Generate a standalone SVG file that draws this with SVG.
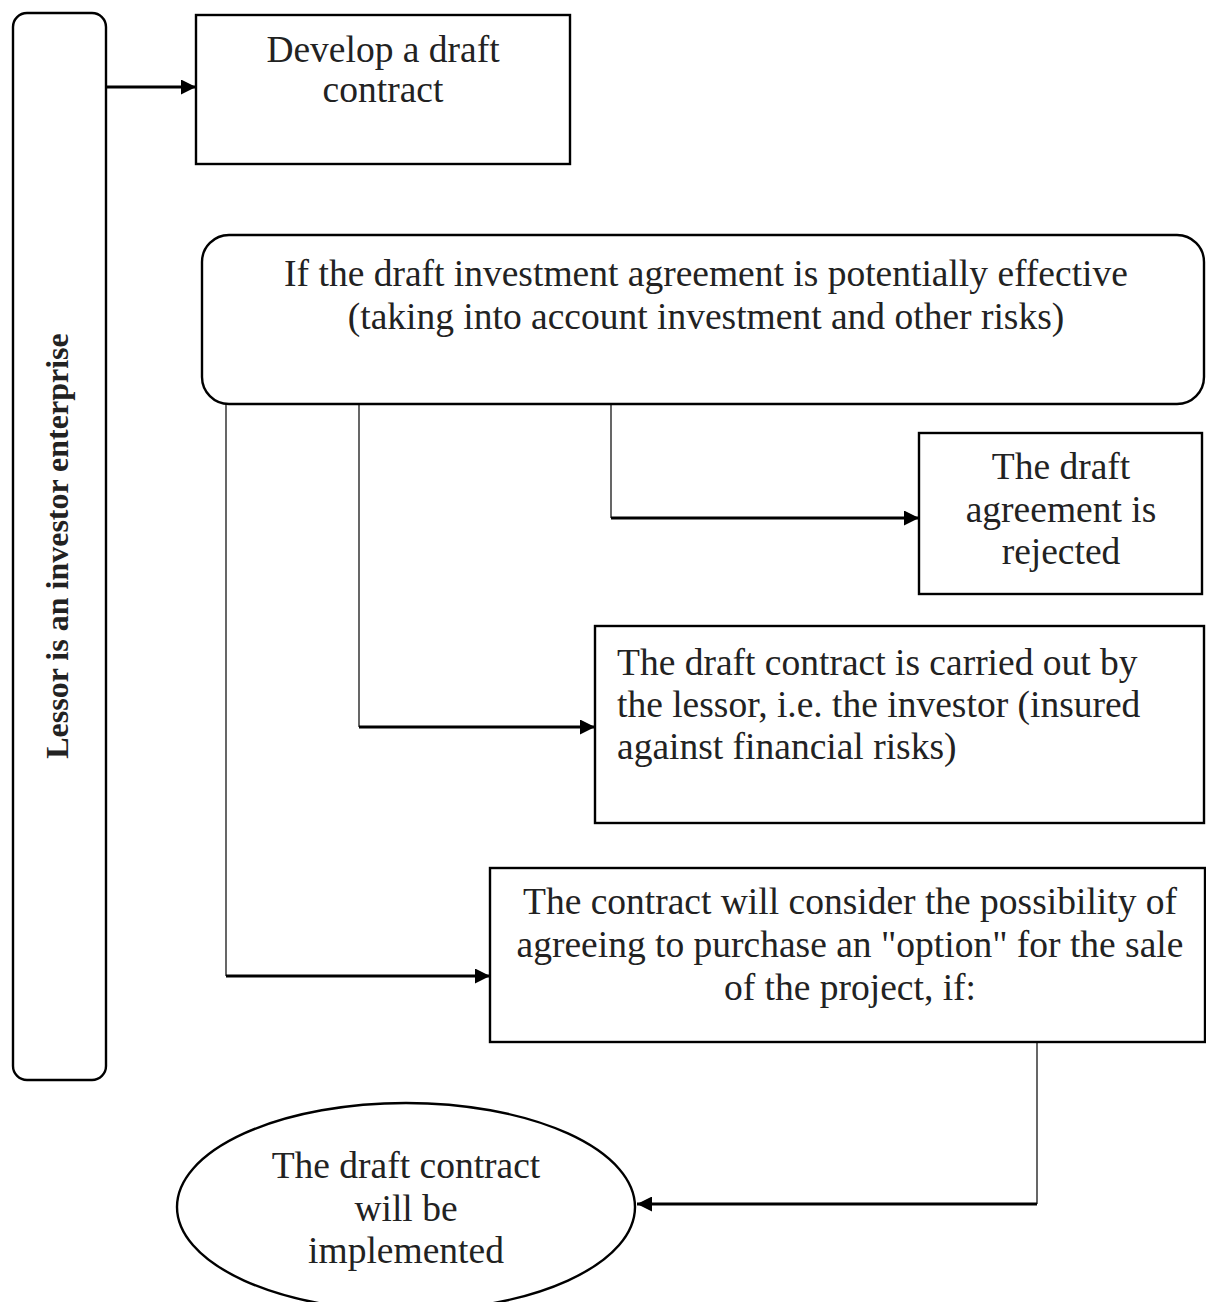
<svg xmlns="http://www.w3.org/2000/svg" width="1206" height="1302" viewBox="0 0 1206 1302">
<style>
.box{fill:#fff;stroke:#000;stroke-width:2.4}
.t{font-family:"Liberation Serif","Times New Roman",serif;font-size:37.5px;fill:#222}
.c{text-anchor:middle}
.b{font-weight:bold;font-size:32px}
.v{fill:none;stroke:#000;stroke-width:1.2}
.h{fill:none;stroke:#000;stroke-width:3;marker-end:url(#ah)}
</style>
<defs>
<marker id="ah" markerUnits="userSpaceOnUse" markerWidth="15" markerHeight="15" refX="14" refY="7" orient="auto" viewBox="0 0 14 14">
<path d="M0,0 L14,7 L0,14 z" fill="#000"/>
</marker>
</defs>
<rect width="1206" height="1302" fill="#fff"/>
<g id="connectors">
<line class="h" x1="107" y1="87" x2="196" y2="87"/>
<line class="v" x1="611" y1="404" x2="611" y2="518"/>
<line class="h" x1="611" y1="518" x2="919" y2="518"/>
<line class="v" x1="359" y1="404" x2="359" y2="727"/>
<line class="h" x1="359" y1="727" x2="595" y2="727"/>
<line class="v" x1="226" y1="404" x2="226" y2="976"/>
<line class="h" x1="226" y1="976" x2="490" y2="976"/>
<line class="v" x1="1037" y1="1043" x2="1037" y2="1204"/>
<line class="h" x1="1037" y1="1204" x2="637" y2="1204"/>
</g>
<g id="lessor">
<rect class="box" x="13" y="13" width="93" height="1067" rx="14"/>
<text class="t c b" transform="translate(68,546) rotate(-90)" x="0" y="0">Lessor is an investor enterprise</text>
</g>
<g id="develop">
<rect class="box" x="196" y="15" width="374" height="149"/>
<text class="t c" x="383" y="62">Develop a draft</text>
<text class="t c" x="383" y="102">contract</text>
</g>
<g id="condition">
<rect class="box" x="202" y="235" width="1002" height="169" rx="27"/>
<text class="t c" x="706" y="286">If the draft investment agreement is potentially effective</text>
<text class="t c" x="706" y="329">(taking into account investment and other risks)</text>
</g>
<g id="rejected">
<rect class="box" x="919" y="433" width="283" height="161"/>
<text class="t c" x="1061" y="479">The draft</text>
<text class="t c" x="1061" y="522">agreement is</text>
<text class="t c" x="1061" y="564">rejected</text>
</g>
<g id="carried">
<rect class="box" x="595" y="626" width="609" height="197"/>
<text class="t" x="617" y="675">The draft contract is carried out by</text>
<text class="t" x="617" y="717">the lessor, i.e. the investor (insured</text>
<text class="t" x="617" y="759">against financial risks)</text>
</g>
<g id="option">
<rect class="box" x="490" y="868" width="715" height="174"/>
<text class="t c" x="850" y="914">The contract will consider the possibility of</text>
<text class="t c" x="850" y="957">agreeing to purchase an "option" for the sale</text>
<text class="t c" x="850" y="1000">of the project, if:</text>
</g>
<g id="implemented">
<ellipse class="box" cx="406" cy="1207" rx="229" ry="104"/>
<text class="t c" x="406" y="1178">The draft contract</text>
<text class="t c" x="406" y="1221">will be</text>
<text class="t c" x="406" y="1263">implemented</text>
</g>
</svg>
